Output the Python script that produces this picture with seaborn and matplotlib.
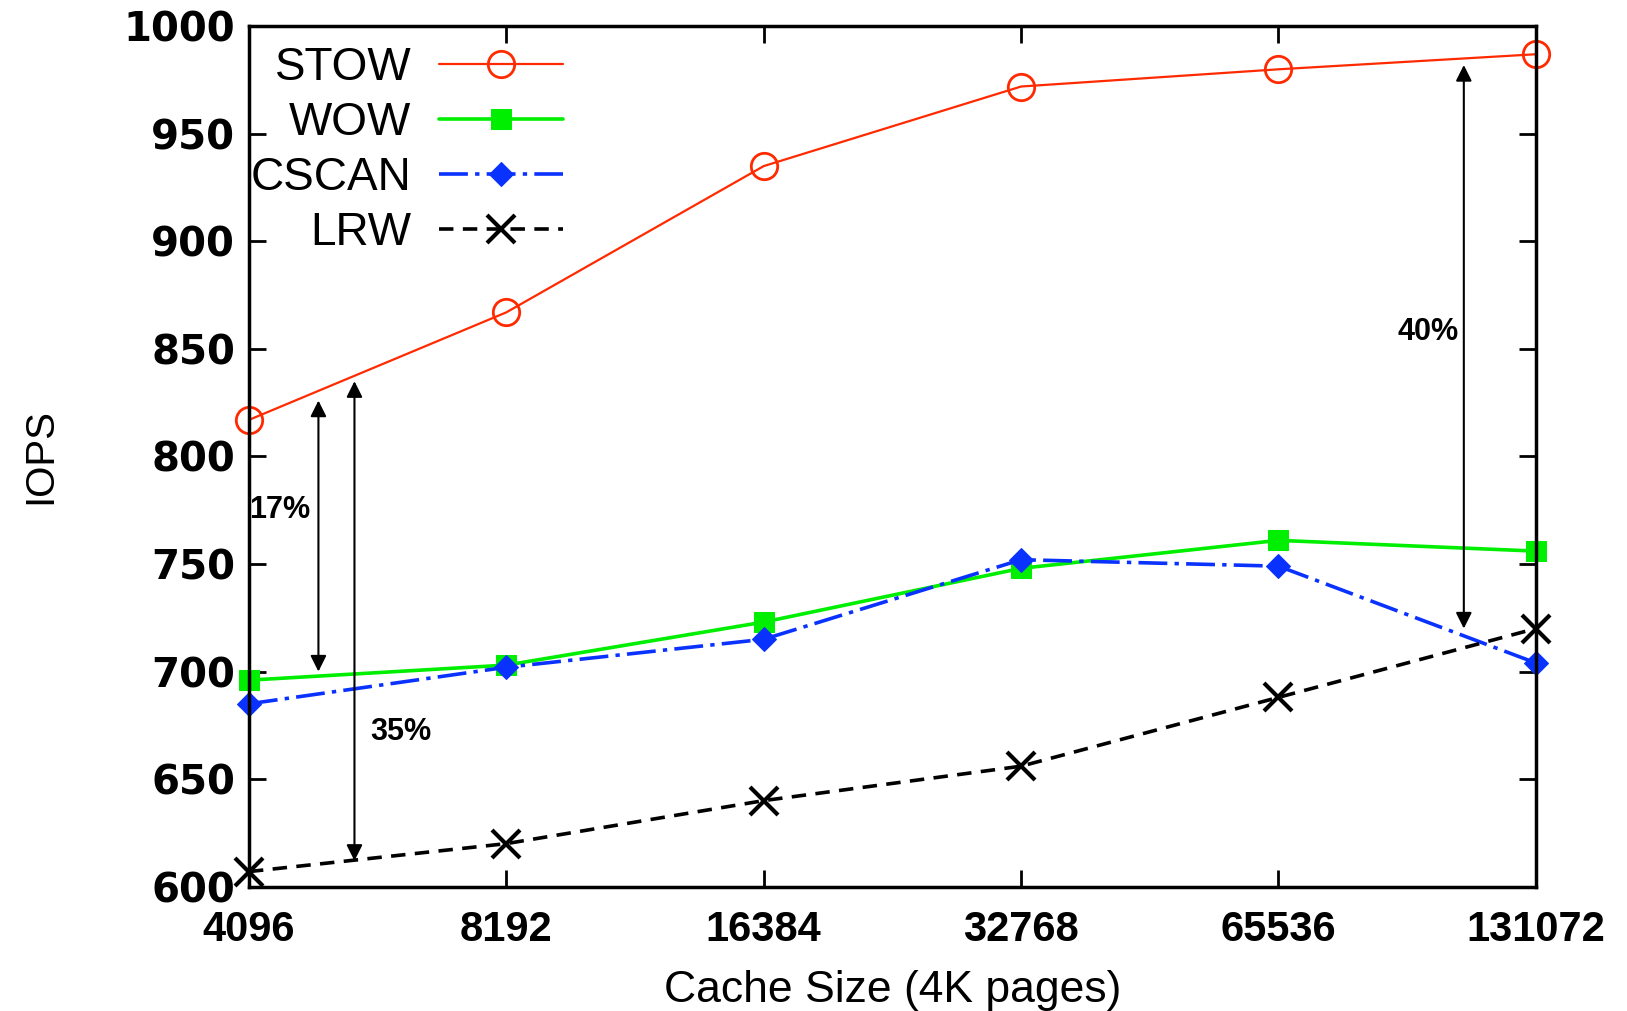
# Cache size vs IOPS: STOW, WOW, CSCAN, LRW

import numpy as np
import pandas as pd
import matplotlib
matplotlib.use("Agg")
import matplotlib.pyplot as plt
import seaborn as sns

# datos
cache_sizes = ["4096", "8192", "16384", "32768", "65536", "131072"]
stow = [817, 867, 935, 972, 980, 987]
wow = [696, 703, 723, 748, 761, 756]
cscan = [685, 702, 715, 752, 749, 704]
lrw = [607, 620, 640, 656, 688, 720]

# anotaciones: (x, y_arriba, y_abajo), (texto, x, y)
arrows = [(0.27, 826, 700), (0.41, 835, 612), (4.72, 982, 720)]
labels = [("17%", 0.12, 775), ("35%", 0.59, 672), ("40%", 4.58, 858)]

sns.set_style("ticks")
plt.rcParams["font.family"] = ["Liberation Sans", "DejaVu Sans"]
plt.rcParams.update({"text.color": "black", "axes.labelcolor": "black",
                     "xtick.color": "black", "ytick.color": "black",
                     "axes.edgecolor": "black"})

fig = plt.figure(figsize=(16.27, 10.11), dpi=100)
ax = fig.add_axes([0.153, 0.123, 0.791, 0.851])

x = np.arange(len(cache_sizes))

sns.lineplot(x=x, y=stow, ax=ax, color="#ff2a00", lw=1.6, marker="o", ms=19,
             mfc="none", mec="#ff2a00", mew=2, label="STOW", clip_on=False)
sns.lineplot(x=x, y=wow, ax=ax, color="#00ee00", lw=2.6, marker="s", ms=15,
             mec="#00ee00", label="WOW", clip_on=False)
sns.lineplot(x=x, y=cscan, ax=ax, color="#0a32ff", lw=2.6, marker="D", ms=12,
             mec="#0a32ff", ls=(0, (8, 2, 1.2, 2)), label="CSCAN", clip_on=False)
sns.lineplot(x=x, y=lrw, ax=ax, color="black", lw=2.6, marker="x", ms=20,
             mec="black", mew=3, ls=(0, (4, 2.6)), label="LRW", clip_on=False)

for ax_x, y_top, y_bot in arrows:
    ax.annotate("", xy=(ax_x, y_bot), xytext=(ax_x, y_top),
                arrowprops=dict(arrowstyle="<|-|>", color="black", lw=1.5,
                                mutation_scale=24, shrinkA=0, shrinkB=0))
for txt, tx, ty in labels:
    ax.text(tx, ty, txt, fontsize=22, fontweight="bold", ha="center", va="center")

ax.set_xlim(0, 5)
ax.set_ylim(600, 1000)
ax.set_xticks(x)
ax.set_xticklabels(cache_sizes, fontsize=30, fontweight="bold")
ax.set_yticks(range(600, 1001, 50))
ax.set_yticklabels([str(v) for v in range(600, 1001, 50)], fontsize=29,
                   fontweight="bold", family="DejaVu Sans")
ax.tick_params(direction="in", length=12, width=2, top=True, right=True)
ax.tick_params(axis="x", pad=17)
ax.tick_params(axis="y", pad=10)
for sp in ax.spines.values():
    sp.set_visible(True)
    sp.set_linewidth(2.5)

ax.set_xlabel("Cache Size (4K pages)", fontsize=32, labelpad=14)
ax.set_ylabel("IOPS", fontsize=29, labelpad=46)

leg = ax.legend(loc="upper left", frameon=False, markerfirst=False,
                fontsize=33, handlelength=2.7, handletextpad=0.6,
                labelspacing=0.24, borderaxespad=0.0,
                bbox_to_anchor=(-0.013, 0.998))
for t in leg.get_texts():
    t.set_ha("right")

fig.savefig("out.png", dpi=100)
